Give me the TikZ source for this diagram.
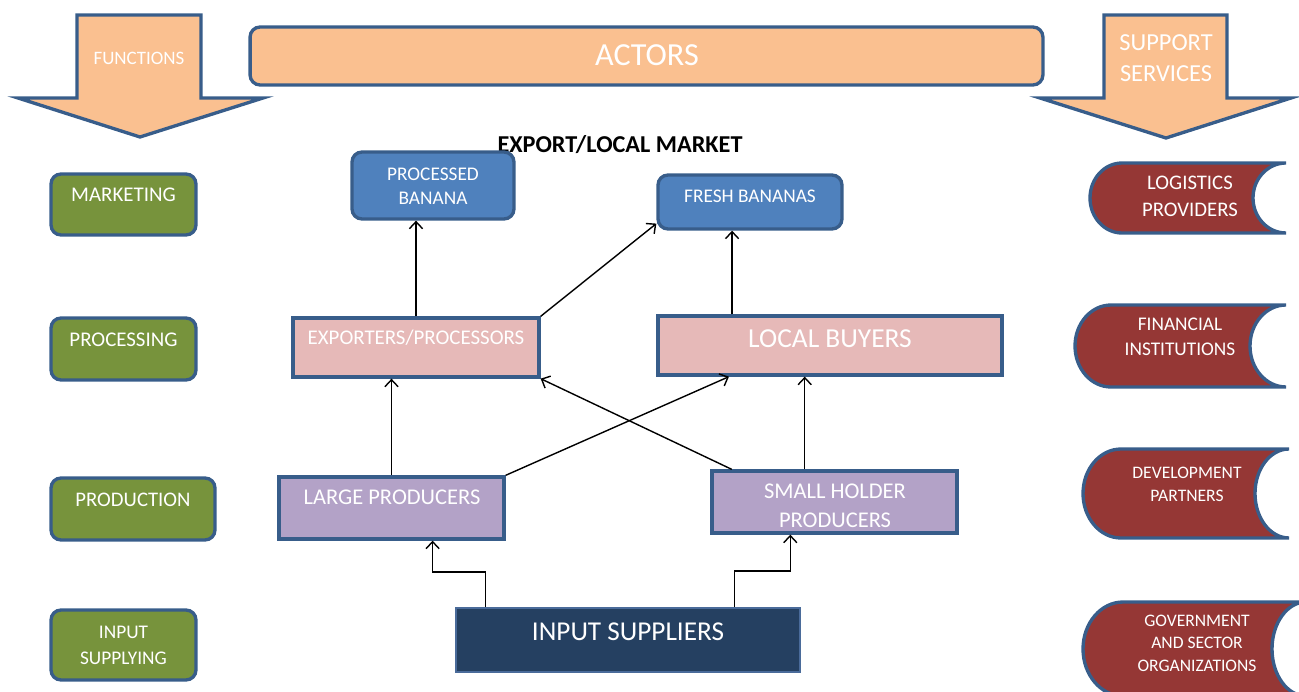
\documentclass[tikz,border=0pt]{standalone}
\usepackage{fontspec}
\setmainfont{Carlito}
\usetikzlibrary{arrows.meta,calc}

\definecolor{edgeblue}{HTML}{385D8A}
\definecolor{headorange}{HTML}{FAC090}
\definecolor{funcgreen}{HTML}{77933C}
\definecolor{marketblue}{HTML}{4F81BD}
\definecolor{actorpink}{HTML}{E6B9B8}
\definecolor{prodpurple}{HTML}{B3A2C7}
\definecolor{inputnavy}{HTML}{254061}
\definecolor{navyedge}{HTML}{4A6B9A}
\definecolor{servmaroon}{HTML}{953735}

\begin{document}
\begin{tikzpicture}[x=0.02cm, y=-0.02cm,
	shape_line/.style={draw=edgeblue, line width=1.9pt},
	block_arrow/.style={shape_line, fill=headorange},
	serv_shape/.style={shape_line, fill=servmaroon},
	plain_box/.style={shape_line, inner sep=0pt},
	round_box/.style={plain_box, rounded corners=0.2cm},
	head_box/.style={round_box, fill=headorange},
	func_box/.style={round_box, fill=funcgreen},
	market_box/.style={round_box, fill=marketblue},
	actor_box/.style={plain_box, fill=actorpink},
	prod_box/.style={plain_box, fill=prodpurple},
	input_box/.style={plain_box, fill=inputnavy, draw=navyedge, line width=1pt},
	white_text/.style={text=white, align=center, inner sep=0pt},
	flow/.style={-{Straight Barb[length=4pt,width=7.5pt]}, line width=0.8pt}]
	\clip (0,0) rectangle (1299,692);

	\filldraw[block_arrow] (77,15) -- (201,15) -- (201,98) -- (263,98) -- (140,137) -- (18,98) -- (77,98) -- cycle;
	\filldraw[block_arrow] (1104,15) -- (1227,15) -- (1227,98) -- (1291,98) -- (1166,138) -- (1040,98) -- (1104,98) -- cycle;
	\node[white_text, font=\fontsize{10.8}{13}\selectfont] (functions) at (139, 58) {FUNCTIONS};
	\node[white_text, font=\fontsize{13.9}{17.6}\selectfont] (support) at (1166, 58.5) {SUPPORT\\SERVICES};

	\node[head_box, minimum width=15.86cm, minimum height=1.16cm] (actors) at (646.5, 56) {};
	\node[white_text, font=\fontsize{18.3}{20}\selectfont] (actors_t) at (647, 55) {ACTORS};

	\node[font=\bfseries\fontsize{13.8}{16}\selectfont, inner sep=0pt] (market) at (620, 145) {EXPORT/LOCAL MARKET};

	\node[market_box, minimum width=3.24cm, minimum height=1.34cm] (proc) at (433, 185.5) {};
	\node[white_text, font=\fontsize{11}{13.7}\selectfont] (proc_t) at (433, 186) {PROCESSED\\BANANA};
	\node[market_box, minimum width=3.68cm, minimum height=1.08cm] (fresh) at (750, 202) {};
	\node[white_text, font=\fontsize{11}{13}\selectfont] (fresh_t) at (750, 196) {FRESH BANANAS};

	\node[func_box, minimum width=2.9cm, minimum height=1.22cm] (mkt) at (123.5, 204.5) {};
	\node[white_text, font=\fontsize{11.9}{14}\selectfont] (mkt_t) at (123.5, 195) {MARKETING};
	\node[func_box, minimum width=2.9cm, minimum height=1.24cm] (prc) at (123.5, 349) {};
	\node[white_text, font=\fontsize{11.9}{14}\selectfont] (prc_t) at (123.5, 340) {PROCESSING};
	\node[func_box, minimum width=3.28cm, minimum height=1.24cm] (prd) at (133, 509) {};
	\node[white_text, font=\fontsize{11.8}{14}\selectfont] (prd_t) at (133, 500) {PRODUCTION};
	\node[func_box, minimum width=2.9cm, minimum height=1.4cm] (inp) at (123.5, 645) {};
	\node[white_text, font=\fontsize{11}{14.8}\selectfont] (inp_t) at (123.5, 645) {INPUT\\SUPPLYING};

	\node[actor_box, minimum width=4.92cm, minimum height=1.18cm] (exp) at (416, 347.5) {};
	\node[white_text, font=\fontsize{11.9}{14}\selectfont] (exp_t) at (416, 338) {EXPORTERS/PROCESSORS};
	\node[actor_box, minimum width=6.88cm, minimum height=1.18cm] (lb) at (830, 345.5) {};
	\node[white_text, font=\fontsize{15.6}{18}\selectfont] (lb_t) at (830, 339) {LOCAL BUYERS};

	\node[prod_box, minimum width=4.5cm, minimum height=1.24cm] (lp) at (391.5, 508) {};
	\node[white_text, font=\fontsize{12.8}{15}\selectfont] (lp_t) at (392, 497) {LARGE PRODUCERS};
	\node[prod_box, minimum width=4.9cm, minimum height=1.24cm] (shp) at (834.5, 502) {};
	\node[white_text, font=\fontsize{12.8}{16.5}\selectfont] (shp_t) at (835, 506) {SMALL HOLDER\\PRODUCERS};

	\node[input_box, minimum width=6.88cm, minimum height=1.28cm] (is) at (628, 640) {};
	\node[white_text, font=\fontsize{15.5}{18}\selectfont] (is_t) at (628, 632) {INPUT SUPPLIERS};

	\filldraw[serv_shape] (1122,163) -- (1286,163) arc[start angle=90, end angle=270, x radius=0.66cm, y radius=0.7cm] -- (1122,233) arc[start angle=-90, end angle=-270, x radius=0.64cm, y radius=0.7cm] -- cycle;
	\filldraw[serv_shape] (1111,305) -- (1286,305) arc[start angle=90, end angle=270, x radius=0.72cm, y radius=0.82cm] -- (1111,387) arc[start angle=-90, end angle=-270, x radius=0.72cm, y radius=0.82cm] -- cycle;
	\filldraw[serv_shape] (1121,449) -- (1289,449) arc[start angle=90, end angle=270, x radius=0.68cm, y radius=0.89cm] -- (1121,538) arc[start angle=-90, end angle=-270, x radius=0.76cm, y radius=0.89cm] -- cycle;
	\filldraw[serv_shape] (1123,602) -- (1306,602) arc[start angle=90, end angle=270, x radius=0.68cm, y radius=0.94cm] -- (1123,696) arc[start angle=-90, end angle=-270, x radius=0.8cm, y radius=0.94cm] -- cycle;
	\node[white_text, font=\fontsize{11.8}{15.4}\selectfont] (logistics) at (1190, 196.5) {LOGISTICS\\PROVIDERS};
	\node[white_text, font=\fontsize{11}{14.2}\selectfont] (financial) at (1180, 336.5) {FINANCIAL\\INSTITUTIONS};
	\node[white_text, font=\fontsize{10}{13}\selectfont] (development) at (1187, 484.5) {DEVELOPMENT\\PARTNERS};
	\node[white_text, font=\fontsize{10}{12.8}\selectfont] (government) at (1197, 643) {GOVERNMENT\\AND SECTOR\\ORGANIZATIONS};

\draw[flow] (exp.north) -- (exp.north |- proc.south);
\draw[flow] (exp.north east) -- (fresh.193);
\draw[flow] ($(lb.north west)!0.218!(lb.north east)$) coordinate (lb_up) -- (lb_up |- fresh.south);
\draw[flow] (lp.north) -- (lp.north |- exp.south);
\draw[flow] (lp.north east) -- ($(lb.south west)!0.209!(lb.south east)$);
\draw[flow] ($(shp.north west)!0.086!(shp.north east)$) -- (exp.south east);
\draw[flow] ($(shp.north west)!0.38!(shp.north east)$) coordinate (shp_up) -- (shp_up |- lb.south);
\draw[flow] ($(is.north west)!0.087!(is.north east)$) -- ++(0,-35) -| ($(lp.south west)!0.68!(lp.south east)$);
\draw[flow] ($(is.north west)!0.808!(is.north east)$) -- ++(0,-36) -| ($(shp.south west)!0.322!(shp.south east)$);

\end{tikzpicture}
\end{document}
